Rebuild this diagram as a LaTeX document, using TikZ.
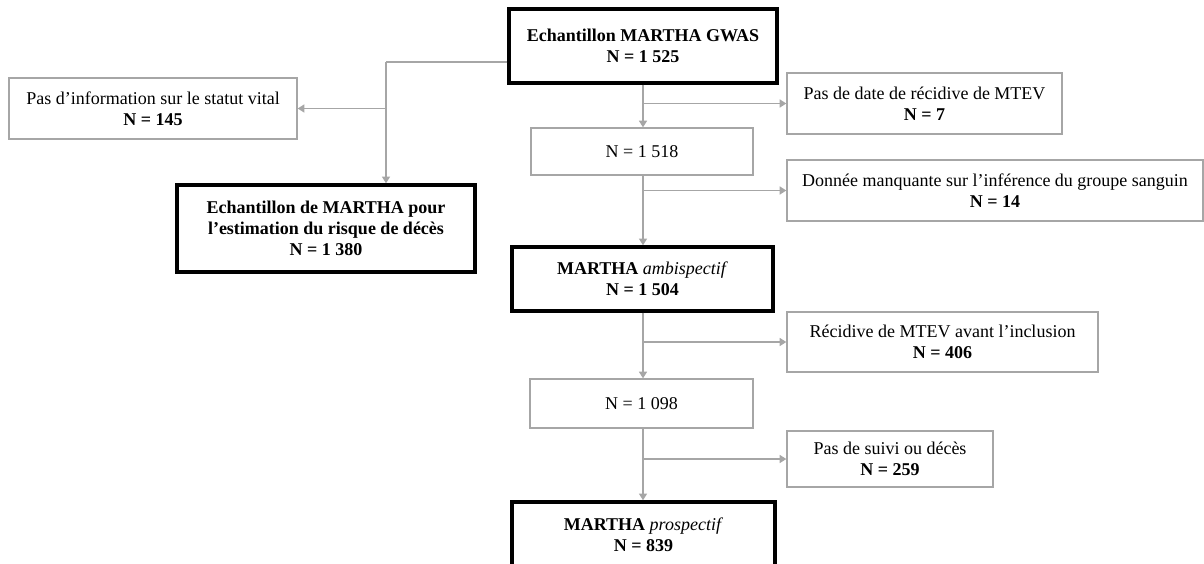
\documentclass[tikz,border=0pt]{standalone}
\usepackage{fontspec}
\setmainfont{Liberation Serif}
\usetikzlibrary{arrows.meta}
\definecolor{lgrey}{HTML}{A6A6A6}
\begin{document}
\begin{tikzpicture}[x=0.75pt,y=-0.75pt,
  every node/.style={font=\fontsize{13.5}{15.5}\selectfont, align=center, inner sep=0pt},
  thinbox/.style={draw=lgrey, line width=1pt, rectangle},
  thickbox/.style={draw=black, line width=2.6pt, rectangle},
  conn/.style={draw=lgrey, line width=1.1pt},
  arr/.style={conn, -{Triangle[width=6pt,length=5pt]}}]
\useasboundingbox (0,0) rectangle (1204,564);
\clip (0,0) rectangle (1204,564);

\node[thickbox, minimum width=201pt, minimum height=55.5pt] (top) at (643,46)
  {\textbf{Echantillon MARTHA GWAS}\\\textbf{N = 1 525}};
\node[thinbox, minimum width=216pt, minimum height=45.75pt] (info) at (153,108.5)
  {Pas d’information sur le statut vital\\\textbf{N = 145}};
\node[thickbox, minimum width=223.5pt, minimum height=65.25pt] (deces) at (326,228.5)
  {\textbf{Echantillon de MARTHA pour}\\\textbf{l’estimation du risque de décès}\\\textbf{N = 1 380}};
\node[thinbox, minimum width=206.25pt, minimum height=45.75pt] (pasdate) at (924.5,103.5)
  {Pas de date de récidive de MTEV\\\textbf{N = 7}};
\node[thinbox, minimum width=166.5pt, minimum height=35.25pt] (n1518) at (642,151.5)
  {N = 1 518};
\node[thinbox, minimum width=312pt, minimum height=45.75pt] (donnee) at (995,190.5)
  {Donnée manquante sur l’inférence du groupe sanguin\\\textbf{N = 14}};
\node[thickbox, minimum width=195.75pt, minimum height=48pt] (ambi) at (642.5,279)
  {\textbf{MARTHA} \textit{ambispectif}\\\textbf{N = 1 504}};
\node[thinbox, minimum width=233.25pt, minimum height=45pt] (recid) at (942.5,342)
  {Récidive de MTEV avant l’inclusion\\\textbf{N = 406}};
\node[thinbox, minimum width=167.25pt, minimum height=36.75pt] (n1098) at (641.5,403.5)
  {N = 1 098};
\node[thinbox, minimum width=154.5pt, minimum height=42pt] (suivi) at (890,459)
  {Pas de suivi ou décès\\\textbf{N = 259}};
\node[thickbox, minimum width=197.25pt, minimum height=49.5pt] (prosp) at (643.5,535)
  {\textbf{MARTHA} \textit{prospectif}\\\textbf{N = 839}};

% left branch
\coordinate (lk) at (386,62);
\draw[conn] (top.west |- lk) -- (lk);
\draw[arr] (lk) -- (lk |- deces.north);
\draw[arr] (lk |- info.east) -- (info.east);

% main spine
\draw[arr] (top.south) -- (top.south |- n1518.north);
\draw[arr] (top.south |- pasdate.west) -- (pasdate.west);
\draw[arr] (top.south |- n1518.south) -- (top.south |- ambi.north);
\draw[arr] (top.south |- donnee.west) -- (donnee.west);
\draw[arr] (top.south |- ambi.south) -- (top.south |- n1098.north);
\draw[arr] (top.south |- recid.west) -- (recid.west);
\draw[arr] (top.south |- n1098.south) -- (top.south |- prosp.north);
\draw[arr] (top.south |- suivi.west) -- (suivi.west);
\end{tikzpicture}
\end{document}
